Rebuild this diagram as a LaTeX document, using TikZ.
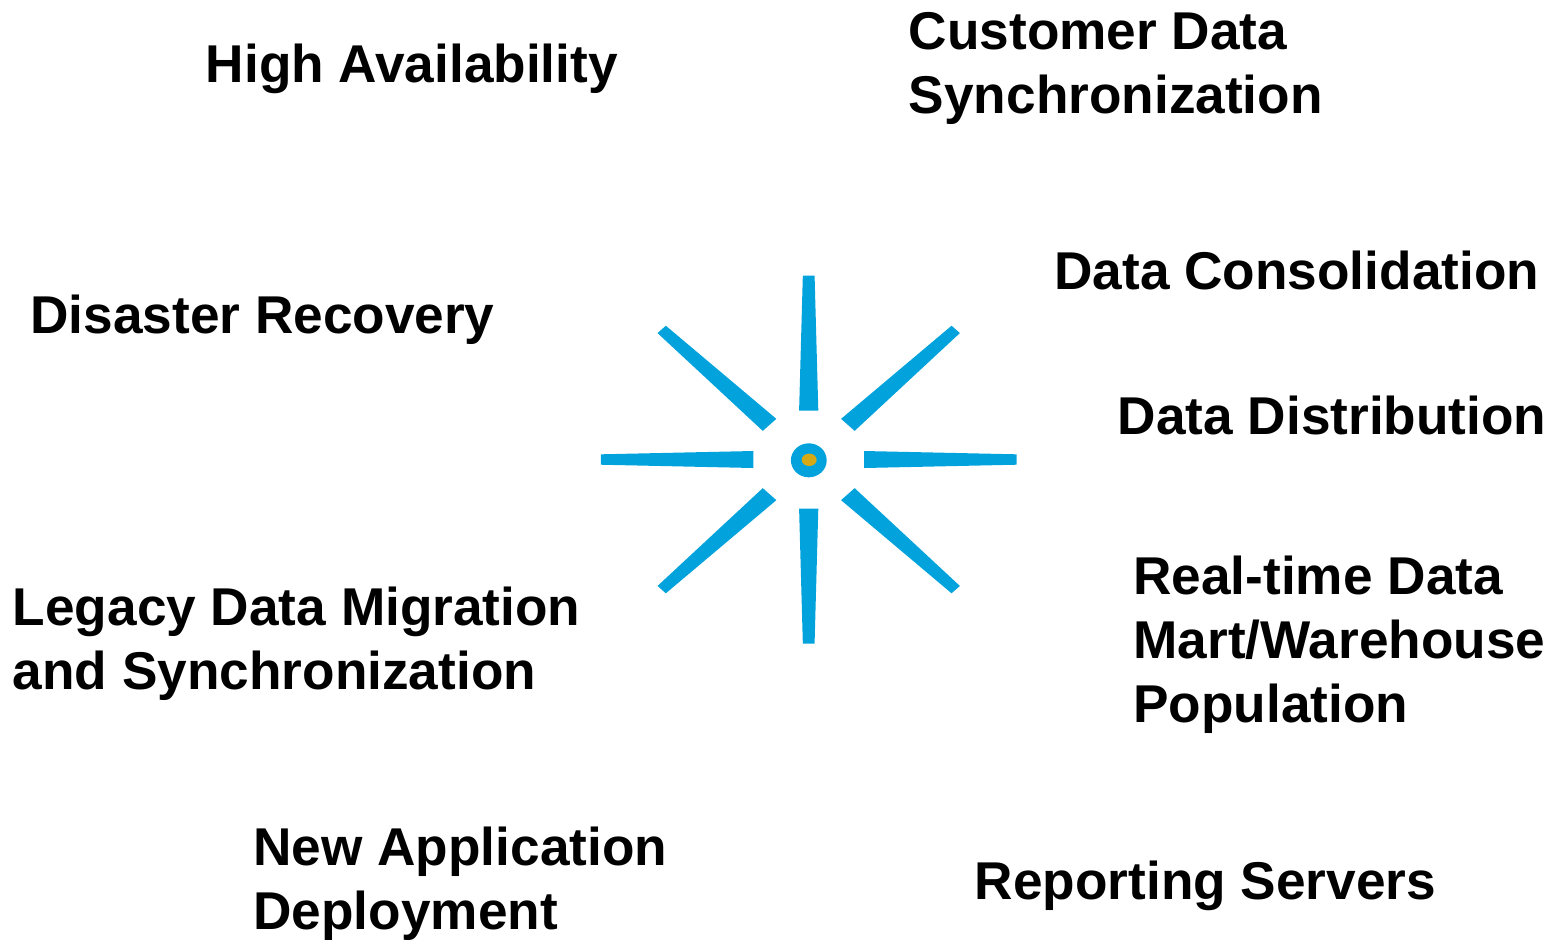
\documentclass[tikz,border=0pt]{standalone}
\usepackage{fontspec}
\setmainfont{Liberation Sans}
\definecolor{rayblue}{RGB}{2,163,220}
\definecolor{hubgold}{RGB}{214,170,23}
\begin{document}
\begin{tikzpicture}[
	x = 0.5pt, y = -0.5pt,
	every node/.style = {inner sep=0pt, anchor=base west, align=left,
		font=\bfseries\fontsize{26.6}{32}\selectfont},
	ray/.style = {fill=rayblue},
	hub/.style = {fill=rayblue},
	core/.style = {fill=hubgold}
	]
	\useasboundingbox (0,0) rectangle (1552,939);
	
	% hub with eight rays
	\begin{scope}[shift={(808.7,459.5)}, xscale=1.13]
	\foreach \ang in {0,45,...,315}
		\fill[ray, rotate=\ang] (49,-8.5) -- (184,-5.2) -- (184,5.2) -- (49,8.5) -- cycle;
	\end{scope}
	\fill[hub] (808.8,460.3) ellipse [x radius=17.9, y radius=17];
	\fill[core] (809.2,459.8) ellipse [x radius=7.5, y radius=6.2];
	
	% labels (multi-line ones sit on the baseline of their last line)
	\node (hiavail) at (205.5,82) {High Availability};
	\node (custsync) at (908.5,113.3) {Customer Data\\Synchronization};
	\node (datacons) at (1054,289.3) {Data Consolidation};
	\node (disrec) at (30,333.3) {Disaster Recovery};
	\node (datadist) at (1117.5,434.7) {Data Distribution};
	\node (realtime) at (1133,722.8) {Real-time Data\\Mart/Warehouse\\Population};
	\node (legacy) at (12.5,689) {Legacy Data Migration\\and Synchronization};
	\node (newapp) at (253,929) {New Application\\Deployment};
	\node (reporting) at (974.5,899.3) {Reporting Servers};
\end{tikzpicture}
\end{document}
